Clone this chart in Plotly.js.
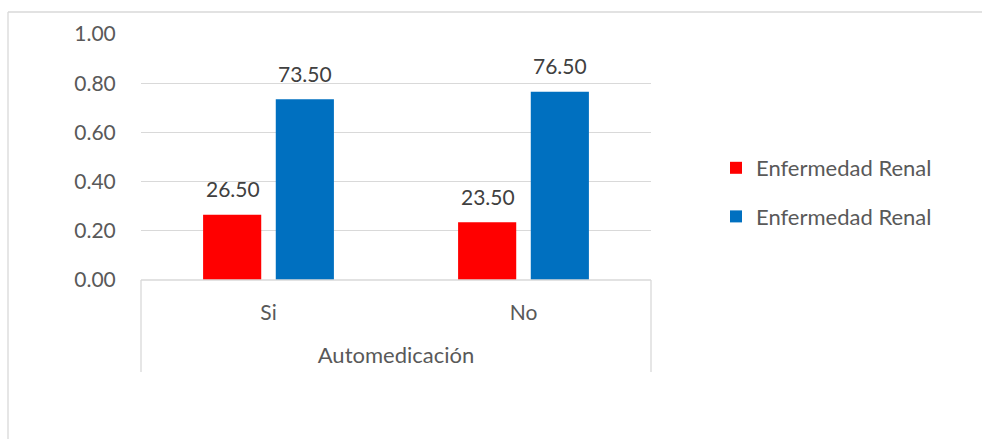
<!DOCTYPE html>
<html>
<head>
<meta charset="utf-8">
<script src="https://cdn.plot.ly/plotly-3.0.1.min.js"></script>
<style>html,body{margin:0;padding:0;background:#fff;}#chart{width:983px;height:439px;}</style>
</head>
<body>
<div id="chart"></div>
<script>
const categories = ["Si", "No"];
const groupTitle = "Automedicación";
const seriesNames = ["Enfermedad Renal", "Enfermedad Renal"];
const redValues = [0.265, 0.235];
const blueValues = [0.735, 0.765];
const yTicks = [0, 0.2, 0.4, 0.6, 0.8, 1.0];

const FONT = "Lato, 'Open Sans', sans-serif";
const fmt = v => (v * 100).toFixed(2);

const L = 141, R = 651, T = 34, B = 280, W = 983, H = 439;
const px = x => (x - L) / (R - L);
const py = y => (B - y) / (B - T);

const traces = [
  {type: "bar", name: seriesNames[0], x: categories, y: redValues,
   marker: {color: "#FF0000"}, legendgroup: "a", hoverinfo: "skip"},
  {type: "bar", name: seriesNames[1], x: categories, y: blueValues,
   marker: {color: "#0070C0"}, legendgroup: "b", hoverinfo: "skip"}
];

const labelFont = {family: FONT, size: 21, color: "#404040"};
const annotations = [];
categories.forEach((c, i) => {
  annotations.push({x: c, y: redValues[i], xref: "x", yref: "y", text: fmt(redValues[i]),
    showarrow: false, xshift: -36, yshift: 26, yanchor: "middle", font: labelFont});
  annotations.push({x: c, y: blueValues[i], xref: "x", yref: "y", text: fmt(blueValues[i]),
    showarrow: false, xshift: 36, yshift: 26, yanchor: "middle", font: labelFont});
});

const lineStyle = {color: "#D9D9D9", width: 1.3};
const layout = {
  width: W, height: H,
  margin: {l: L, r: W - R, t: T, b: H - B, pad: 0},
  paper_bgcolor: "#fff", plot_bgcolor: "#fff",
  font: {family: FONT, size: 21, color: "#595959"},
  barmode: "group", bargap: 0.43, bargroupgap: 0.2,
  showlegend: true,
  legend: {x: px(716), xanchor: "left", y: py(147), yanchor: "top",
           font: {family: FONT, size: 22, color: "#595959"},
           tracegroupgap: 17, itemclick: false, bgcolor: "rgba(0,0,0,0)"},
  xaxis: {type: "category", showgrid: false, zeroline: false, showline: false,
          ticks: "outside", ticklen: 14, tickcolor: "rgba(0,0,0,0)",
          tickfont: {family: FONT, size: 21, color: "#595959"},
          title: {text: groupTitle, font: {family: FONT, size: 22, color: "#595959"}, standoff: 24}},
  yaxis: {range: [0, 1.0], tickvals: yTicks, tickformat: ".2f",
          showgrid: true, gridcolor: "#D9D9D9", gridwidth: 1.3, zeroline: false, showline: false,
          ticks: "outside", ticklen: 20, tickcolor: "rgba(0,0,0,0)",
          tickfont: {family: FONT, size: 21, color: "#595959"}},
  annotations: annotations,
  shapes: [
    {type: "line", xref: "paper", yref: "paper", x0: 0, x1: 1, y0: 0, y1: 0, line: lineStyle},
    {type: "line", xref: "paper", yref: "paper", x0: 0, x1: 0, y0: 0, y1: py(372), line: lineStyle},
    {type: "line", xref: "paper", yref: "paper", x0: 1, x1: 1, y0: 0, y1: py(372), line: lineStyle},
    {type: "line", xref: "paper", yref: "paper", x0: px(8), x1: px(982), y0: py(12), y1: py(12), line: lineStyle},
    {type: "line", xref: "paper", yref: "paper", x0: px(8), x1: px(8), y0: py(12), y1: py(440), line: lineStyle}
  ]
};

Plotly.newPlot("chart", traces, layout, {displayModeBar: false, staticPlot: true});
</script>
</body>
</html>
